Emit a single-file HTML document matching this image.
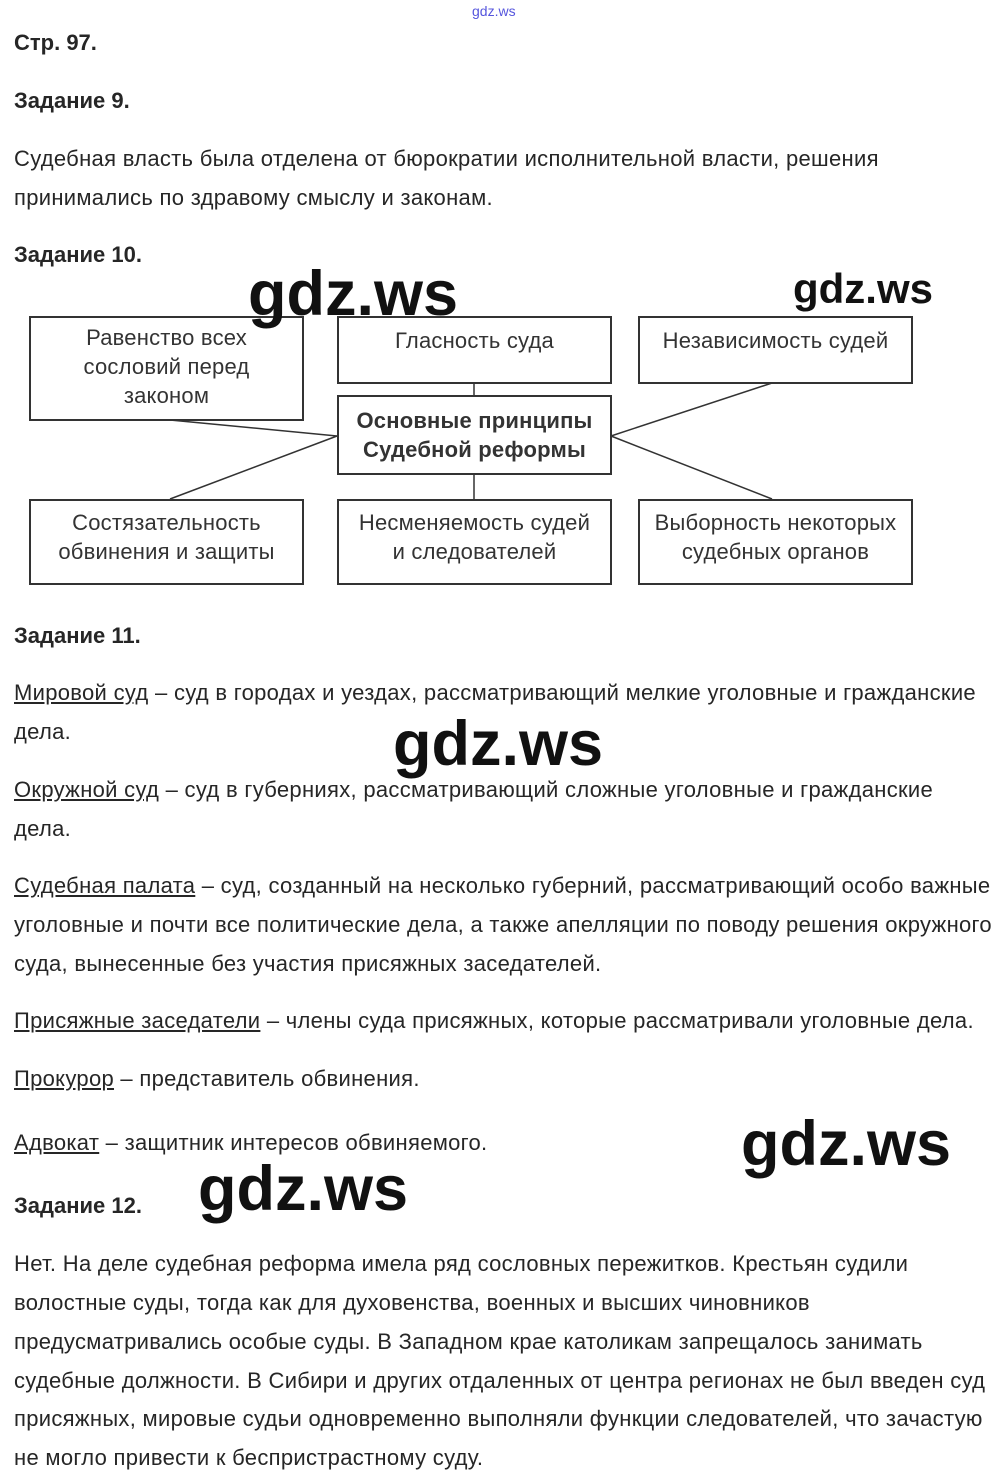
<!DOCTYPE html>
<html><head><meta charset="utf-8"><style>
body{margin:0;width:1000px;height:1483px;background:#fff;position:relative;font-family:"Liberation Sans",Arial,sans-serif;color:#262626;overflow:hidden}
.t{position:absolute;left:14px;font-size:22px;letter-spacing:0.3px;white-space:nowrap;line-height:24px}
.b{font-weight:bold;letter-spacing:0}
u{text-decoration:underline}
.box{position:absolute;border:2px solid #333;box-sizing:border-box;text-align:center;font-size:22px;letter-spacing:0.2px;line-height:29px;color:#333;background:#fff;white-space:nowrap}
.wm{position:absolute;font-weight:bold;color:#111;white-space:nowrap;line-height:1}
</style></head><body>
<div style="position:absolute;left:472px;top:3px;font-size:14px;color:#5555dd">gdz.ws</div>
<div class="t b" style="top:31px">Стр. 97.</div>
<div class="t b" style="top:89px">Задание 9.</div>
<div class="t" style="top:147px">Судебная власть была отделена от бюрократии исполнительной власти, решения</div>
<div class="t" style="top:186px">принимались по здравому смыслу и законам.</div>
<div class="t b" style="top:243px">Задание 10.</div>

<svg style="position:absolute;left:0;top:0" width="1000" height="600">
<g stroke="#333" stroke-width="1.5">
<line x1="170" y1="420" x2="337" y2="436"/>
<line x1="337" y1="436" x2="170" y2="499"/>
<line x1="772" y1="383" x2="611" y2="436"/>
<line x1="611" y1="436" x2="772" y2="499"/>
<line x1="474" y1="383" x2="474" y2="395"/>
<line x1="474" y1="474" x2="474" y2="499"/>
</g></svg>
<div class="box" style="left:29px;top:316px;width:275px;height:105px;padding-top:5px">Равенство всех<br>сословий перед<br>законом</div>
<div class="box" style="left:337px;top:316px;width:275px;height:68px;padding-top:8px">Гласность суда</div>
<div class="box" style="left:638px;top:316px;width:275px;height:68px;padding-top:8px">Независимость судей</div>
<div class="box b" style="left:337px;top:395px;width:275px;height:80px;padding-top:9px;font-weight:bold">Основные принципы<br>Судебной реформы</div>
<div class="box" style="left:29px;top:499px;width:275px;height:86px;padding-top:7px">Состязательность<br>обвинения и защиты</div>
<div class="box" style="left:337px;top:499px;width:275px;height:86px;padding-top:7px">Несменяемость судей<br>и следователей</div>
<div class="box" style="left:638px;top:499px;width:275px;height:86px;padding-top:7px">Выборность некоторых<br>судебных органов</div>

<div class="t b" style="top:624px">Задание 11.</div>
<div class="t" style="top:681px"><u>Мировой суд</u> – суд в городах и уездах, рассматривающий мелкие уголовные и гражданские</div>
<div class="t" style="top:720px">дела.</div>
<div class="t" style="top:778px"><u>Окружной суд</u> – суд в губерниях, рассматривающий сложные уголовные и гражданские</div>
<div class="t" style="top:817px">дела.</div>
<div class="t" style="top:874px"><u>Судебная палата</u> – суд, созданный на несколько губерний, рассматривающий особо важные</div>
<div class="t" style="top:913px">уголовные и почти все политические дела, а также апелляции по поводу решения окружного</div>
<div class="t" style="top:952px">суда, вынесенные без участия присяжных заседателей.</div>
<div class="t" style="top:1009px"><u>Присяжные заседатели</u> – члены суда присяжных, которые рассматривали уголовные дела.</div>
<div class="t" style="top:1067px"><u>Прокурор</u> – представитель обвинения.</div>
<div class="t" style="top:1131px"><u>Адвокат</u> – защитник интересов обвиняемого.</div>
<div class="t b" style="top:1194px">Задание 12.</div>
<div class="t" style="top:1252px">Нет. На деле судебная реформа имела ряд сословных пережитков. Крестьян судили</div>
<div class="t" style="top:1291px">волостные суды, тогда как для духовенства, военных и высших чиновников</div>
<div class="t" style="top:1330px">предусматривались особые суды. В Западном крае католикам запрещалось занимать</div>
<div class="t" style="top:1369px">судебные должности. В Сибири и других отдаленных от центра регионах не был введен суд</div>
<div class="t" style="top:1407px">присяжных, мировые судьи одновременно выполняли функции следователей, что зачастую</div>
<div class="t" style="top:1446px">не могло привести к беспристрастному суду.</div>

<div class="wm" style="left:248px;top:263px;font-size:63px">gdz.ws</div>
<div class="wm" style="left:793px;top:268px;font-size:42px">gdz.ws</div>
<div class="wm" style="left:393px;top:713px;font-size:63px">gdz.ws</div>
<div class="wm" style="left:741px;top:1113px;font-size:63px">gdz.ws</div>
<div class="wm" style="left:198px;top:1158px;font-size:63px">gdz.ws</div>
</body></html>
